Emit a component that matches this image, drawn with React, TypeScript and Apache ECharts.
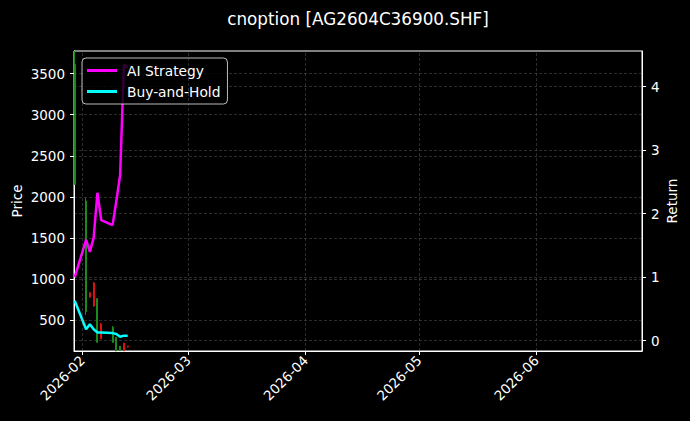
import { useEffect, useRef } from 'react'
import * as echarts from 'echarts'

// 交易日
const dates = ['2026-01-30', '2026-02-02', '2026-02-03', '2026-02-04', '2026-02-05', '2026-02-06', '2026-02-09', '2026-02-10', '2026-02-11', '2026-02-12', '2026-02-13']
// K线 (open / close / low / high)
const opens = [2150, 600, 830, 950, 230, 450, 225, 110, 125, 218, 183]
const closes = [3610, 1950, 780, 670, 760, 270, 410, 290, 180, 125, 172]
const lows = [2146, 561, 770, 659, 220, 268, 220, 100, 120, 110, 165]
const highs = [3900, 1988, 840, 963, 768, 463, 427, 293, 185, 220, 185]
// 收益曲线
const aiStrategy = [1.0, 1.59, 1.4, 1.62, 2.33, 1.9, 1.82, 2.2, 2.61, 4.35, 4.3]
const buyHold = [0.63, 0.18, 0.26, 0.18, 0.13, 0.13, 0.12, 0.105, 0.063, 0.08, 0.08]
// 刻度
const monthTicks = ['2026-02-01', '2026-03-01', '2026-04-01', '2026-05-01', '2026-06-01']
const priceTicks = [500, 1000, 1500, 2000, 2500, 3000, 3500]
const returnTicks = [0, 1, 2, 3, 4]

const PRICE_MIN = 122
const PRICE_MAX = 3776
const FONT = 'DejaVu Sans'
const FS = 13.5
const GRID_COLOR = 'rgba(140,140,140,0.45)'

const toTime = (s: string): number => {
  const [y, m, d] = s.split('-').map(Number)
  return new Date(y, m - 1, d).getTime()
}

// K线不会被裁剪, 先限制在坐标范围内
const clampPrice = (v: number): number => Math.min(Math.max(v, PRICE_MIN), PRICE_MAX)

const App: React.FC = () => {
  // Ref
  const chartRef = useRef<HTMLDivElement | null>(null)

  useEffect(() => {
    if (chartRef.current === null) return
    const chart = echarts.init(chartRef.current, null, { renderer: 'svg' })
    const candleData = dates.map((d, i) => [
      toTime(d),
      clampPrice(opens[i]),
      clampPrice(closes[i]),
      clampPrice(lows[i]),
      clampPrice(highs[i])
    ])
    const option = {
      animation: false,
      backgroundColor: '#000',
      textStyle: { fontFamily: FONT, color: '#fff' },
      title: {
        text: 'cnoption [AG2604C36900.SHF]',
        left: 353,
        textAlign: 'center',
        top: 5,
        textStyle: { color: '#fff', fontSize: 16.8, fontWeight: 'normal', fontFamily: FONT }
      },
      legend: {
        left: 82,
        top: 58,
        orient: 'vertical',
        data: ['AI Strategy', 'Buy-and-Hold'],
        icon: 'rect',
        itemWidth: 30,
        itemHeight: 3,
        itemGap: 6,
        padding: [5, 7, 5, 5],
        backgroundColor: 'rgba(0,0,0,0.8)',
        borderColor: 'rgba(220,220,220,0.85)',
        borderWidth: 1,
        borderRadius: 4,
        textStyle: { color: '#fff', fontSize: 13.8, lineHeight: 15, fontFamily: FONT, padding: [0, 0, 0, 5] }
      },
      grid: {
        left: 74,
        right: 48,
        top: 51,
        bottom: 70,
        show: true,
        outerBoundsMode: 'none',
        borderColor: '#fff',
        borderWidth: 1,
        backgroundColor: '#000'
      },
      xAxis: {
        type: 'value',
        min: new Date(2026, 0, 29, 19, 22).getTime(),
        max: new Date(2026, 5, 28, 22, 50).getTime(),
        axisLine: { show: true, onZero: false, lineStyle: { color: '#fff', width: 1 } },
        axisTick: { show: true, length: 4, lineStyle: { color: '#fff' }, customValues: monthTicks.map(toTime) },
        axisLabel: {
          color: '#fff',
          fontSize: FS,
          fontFamily: FONT,
          rotate: 45,
          margin: 7,
          customValues: monthTicks.map(toTime),
          formatter: (v: number) => {
            const d = new Date(v)
            return `${d.getFullYear()}-${String(d.getMonth() + 1).padStart(2, '0')}`
          }
        },
        splitLine: { show: false }
      },
      yAxis: [
        {
          type: 'value',
          position: 'left',
          min: PRICE_MIN,
          max: PRICE_MAX,
          name: 'Price',
          nameLocation: 'middle',
          nameGap: 50,
          nameMoveOverlap: false,
          nameTextStyle: { color: '#fff', fontSize: FS, fontFamily: FONT },
          axisLine: { show: true, lineStyle: { color: '#fff', width: 1 } },
          axisTick: { show: true, length: 4, lineStyle: { color: '#fff' }, customValues: priceTicks },
          axisLabel: {
            color: '#fff',
            fontSize: FS,
            fontFamily: FONT,
            margin: 9,
            customValues: priceTicks,
            formatter: (v: number) => String(v)
          },
          splitLine: { show: true, lineStyle: { color: GRID_COLOR, type: [3, 2], width: 0.7 } }
        },
        {
          type: 'value',
          position: 'right',
          min: -0.162,
          max: 4.562,
          name: 'Return',
          nameLocation: 'middle',
          nameGap: 23,
          nameMoveOverlap: false,
          nameTextStyle: { color: '#fff', fontSize: FS, fontFamily: FONT },
          axisLine: { show: true, lineStyle: { color: '#fff', width: 1 } },
          axisTick: { show: true, length: 4, lineStyle: { color: '#fff' }, customValues: returnTicks },
          axisLabel: {
            color: '#fff',
            fontSize: FS,
            fontFamily: FONT,
            margin: 9,
            customValues: returnTicks,
            formatter: (v: number) => String(v)
          },
          splitLine: { show: true, lineStyle: { color: GRID_COLOR, type: [3, 2], width: 0.7 } }
        }
      ],
      series: [
        {
          type: 'candlestick',
          yAxisIndex: 0,
          data: candleData,
          encode: { x: 0, y: [1, 2, 3, 4] },
          barWidth: 1.6,
          itemStyle: {
            color: '#1a8a1a',
            color0: '#e01010',
            borderColor: '#1a8a1a',
            borderColor0: '#e01010',
            borderWidth: 1
          },
          // 月份竖向网格线
          markLine: {
            silent: true,
            symbol: ['none', 'none'],
            label: { show: false },
            lineStyle: { color: GRID_COLOR, type: [3, 2], width: 0.7 },
            data: monthTicks.map((m) => ({ xAxis: toTime(m) }))
          }
        },
        {
          name: 'AI Strategy',
          type: 'line',
          yAxisIndex: 1,
          data: dates.map((d, i) => [toTime(d), aiStrategy[i]]),
          showSymbol: false,
          clip: true,
          lineStyle: { color: '#ff00ff', width: 2.5 },
          itemStyle: { color: '#ff00ff' }
        },
        {
          name: 'Buy-and-Hold',
          type: 'line',
          yAxisIndex: 1,
          data: dates.map((d, i) => [toTime(d), buyHold[i]]),
          showSymbol: false,
          clip: true,
          lineStyle: { color: '#00ffff', width: 2.5 },
          itemStyle: { color: '#00ffff' }
        }
      ]
    }
    chart.setOption(option)
    return () => {
      // 销毁图表
      chart.dispose()
    }
  }, [])

  return (
    <div ref={chartRef} style={{ position: 'fixed', left: 0, top: 0, width: 690, height: 421 }}></div>
  )
}

export default App
